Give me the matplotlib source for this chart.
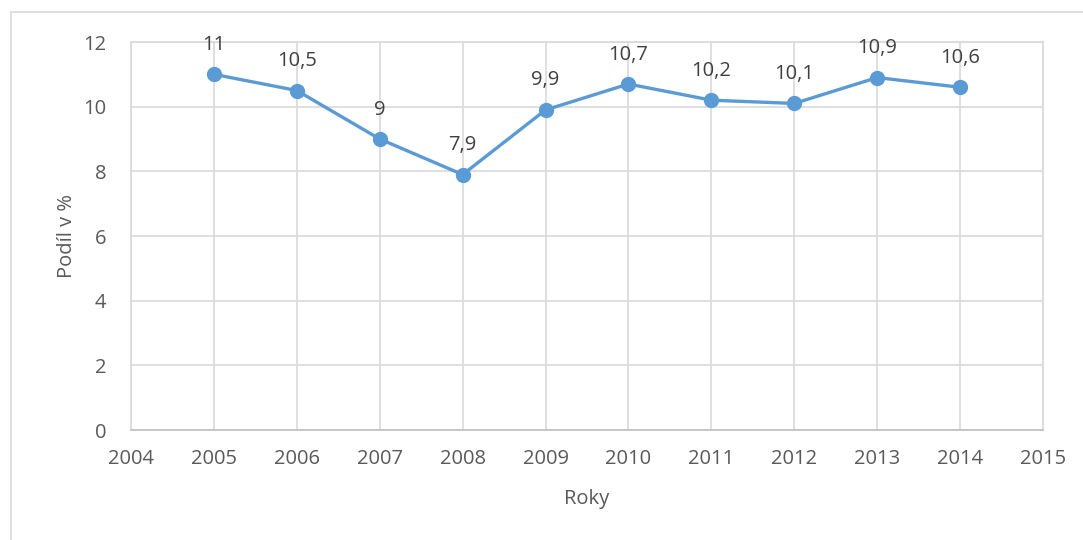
import matplotlib.pyplot as plt
from matplotlib.patches import Rectangle

years = [2005, 2006, 2007, 2008, 2009, 2010, 2011, 2012, 2013, 2014]
share = [11, 10.5, 9, 7.9, 9.9, 10.7, 10.2, 10.1, 10.9, 10.6]
labels = ["11", "10,5", "9", "7,9", "9,9", "10,7", "10,2", "10,1", "10,9", "10,6"]

plt.rcParams['font.family'] = ['Open Sans', 'DejaVu Sans']
text_color = '#595959'
grid_color = '#D9D9D9'
line_color = '#5B9BD5'

fig = plt.figure(figsize=(10.83, 5.40), dpi=100)
ax = fig.add_axes([131 / 1083, 1 - 430 / 540, 912 / 1083, 388 / 540])

# chart border (Excel-like frame)
fig.patches.append(Rectangle((11 / 1083, -0.1), 1.2, 1 - 12 / 540 + 0.1,
                             transform=fig.transFigure, fill=False,
                             edgecolor=grid_color, linewidth=1.2))

ax.plot(years, share, color=line_color, linewidth=2.4, marker='o',
        markersize=10, zorder=3)

for x, y, lab in zip(years, share, labels):
    ax.annotate(lab, (x, y), xytext=(0, 14), textcoords='offset points',
                ha='center', va='bottom', fontsize=14.5, color='#404040')

ax.set_xlim(2004, 2015)
ax.set_ylim(0, 12)
ax.set_xticks(range(2004, 2016))
ax.set_yticks(range(0, 13, 2))
ax.grid(True, color=grid_color, linewidth=1.2)
ax.set_axisbelow(True)
for s in ax.spines.values():
    s.set_color(grid_color)
    s.set_linewidth(1.2)
ax.spines['bottom'].set_color('#BFBFBF')
ax.tick_params(length=0, labelsize=14.5, colors=text_color)
ax.tick_params(axis='x', pad=14)
ax.tick_params(axis='y', pad=18)
ax.set_xlabel('Roky', fontsize=14.5, color=text_color, labelpad=14)
ax.set_ylabel('Podíl v %', fontsize=14.5, color=text_color, labelpad=4)

fig.savefig('out.png', dpi=100)
